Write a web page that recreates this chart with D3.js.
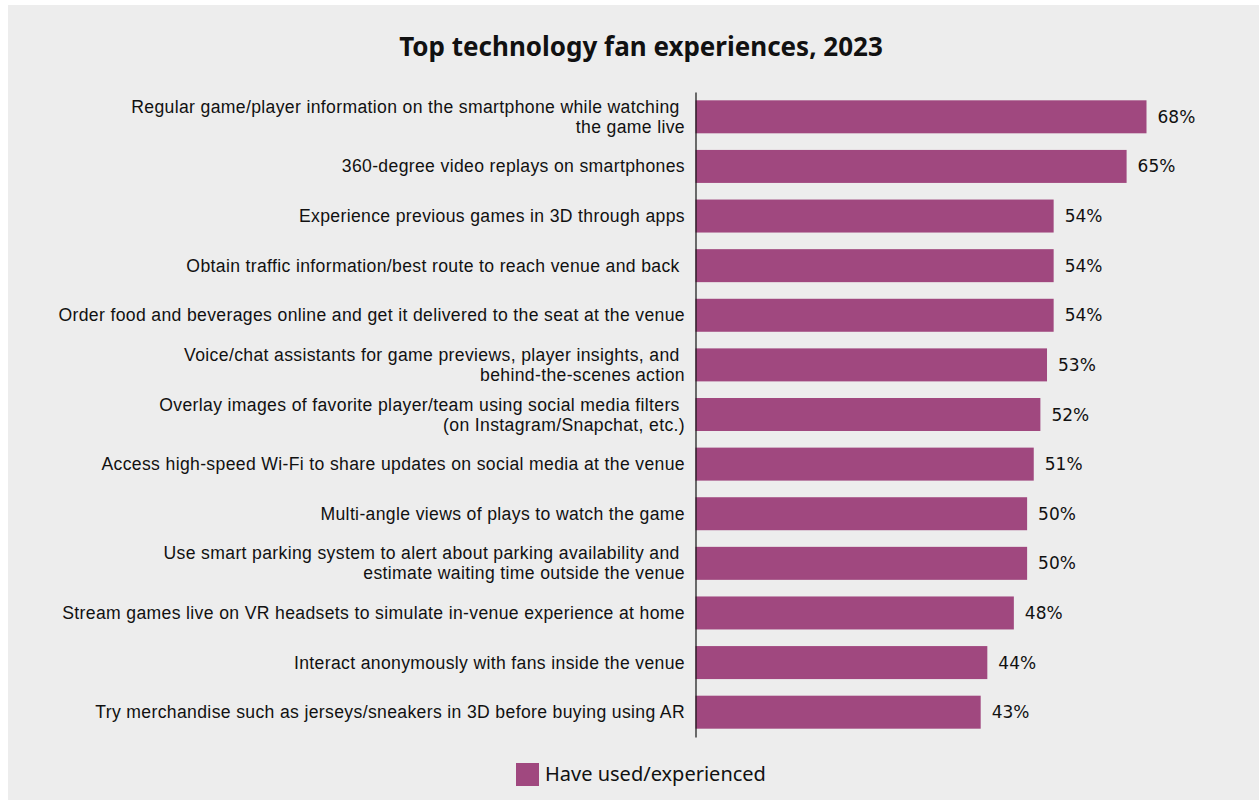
<!DOCTYPE html>
<html>
<head>
<meta charset="utf-8">
<script src="https://cdn.jsdelivr.net/npm/d3@7"></script>
<style>
  html, body { margin: 0; padding: 0; background: #ffffff; }
  svg { display: block; }
</style>
</head>
<body>
<svg id="chart" width="1259" height="804"></svg>
<script>
const title = "Top technology fan experiences, 2023";
const categories = [
  ["Regular game/player information on the smartphone while watching\u00a0", "the game live"],
  ["360-degree video replays on smartphones"],
  ["Experience previous games in 3D through apps"],
  ["Obtain traffic information/best route to reach venue and back\u00a0"],
  ["Order food and beverages online and get it delivered to the seat at the venue"],
  ["Voice/chat assistants for game previews, player insights, and\u00a0", "behind-the-scenes action"],
  ["Overlay images of favorite player/team using social media filters\u00a0", "(on Instagram/Snapchat, etc.)"],
  ["Access high-speed Wi-Fi to share updates on social media at the venue"],
  ["Multi-angle views of plays to watch the game"],
  ["Use smart parking system to alert about parking availability and\u00a0", "estimate waiting time outside the venue"],
  ["Stream games live on VR headsets to simulate in-venue experience at home"],
  ["Interact anonymously with fans inside the venue"],
  ["Try merchandise such as jerseys/sneakers in 3D before buying using AR"]
];
const values = [68, 65, 54, 54, 54, 53, 52, 51, 50, 50, 48, 44, 43];
const seriesName = "Have used/experienced";
const barColor = "#a0487f";

const svg = d3.select("#chart");
svg.append("rect").attr("x", 8).attr("y", 5).attr("width", 1251).attr("height", 795).attr("fill", "#ededed");

svg.append("text")
  .attr("x", 641).attr("y", 56)
  .attr("text-anchor", "middle")
  .attr("font-family", "'Noto Sans', sans-serif")
  .attr("font-weight", "bold")
  .attr("font-size", 26)
  .attr("fill", "#111")
  .text(title);

const x0 = 695.5;
const x = d3.scaleLinear().domain([0, 68]).range([x0, x0 + 451]);
const idx = d3.range(categories.length);
const y = d3.scaleBand().domain(idx).range([92, 737]).paddingInner(0.335).paddingOuter(0.1675);

svg.append("g").selectAll("rect").data(idx).join("rect")
  .attr("x", x(0))
  .attr("y", i => y(i))
  .attr("width", i => x(values[i]) - x(0))
  .attr("height", y.bandwidth())
  .attr("fill", barColor);

// axis line
const axis = svg.append("g").attr("transform", `translate(${x0},0)`)
  .call(d3.axisLeft(y).tickSize(0).tickFormat(""));
axis.select(".domain").attr("stroke", "#111").attr("stroke-width", 1.2);

// category labels
const lh = 20;
const lbl = svg.append("g");
idx.forEach(i => {
  const lines = categories[i];
  const cy = y(i) + y.bandwidth() / 2;
  const t = lbl.append("text")
    .attr("text-anchor", "end")
    .attr("font-family", "'Liberation Sans', Arial, sans-serif")
    .attr("font-size", 17.6)
    .attr("letter-spacing", 0.35)
    .attr("fill", "#111")
    .style("white-space", "pre");
  lines.forEach((ln, k) => {
    t.append("tspan")
      .attr("x", 685)
      .attr("y", cy + (k - (lines.length - 1) / 2) * lh + 6)
      .text(ln);
  });
});

// value labels
svg.append("g").selectAll("text").data(idx).join("text")
  .attr("x", i => x(values[i]) + 11)
  .attr("y", i => y(i) + y.bandwidth() / 2 + 6)
  .attr("font-family", "'DejaVu Sans', sans-serif")
  .attr("font-size", 17)
  .attr("fill", "#111")
  .text(i => values[i] + "%");

// legend
const lg = svg.append("g");
lg.append("rect").attr("x", 516).attr("y", 763).attr("width", 23).attr("height", 23).attr("fill", barColor);
lg.append("text").attr("x", 545).attr("y", 781)
  .attr("font-family", "'Noto Sans', sans-serif")
  .attr("font-size", 20)
  .attr("fill", "#111")
  .text(seriesName);
</script>
</body>
</html>
